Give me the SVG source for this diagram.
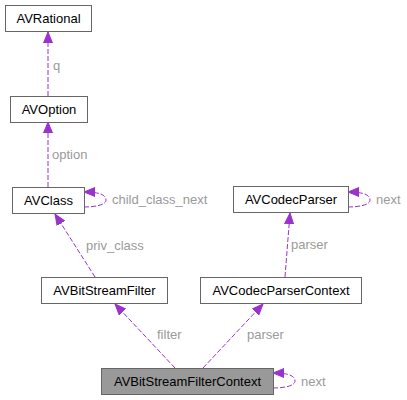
<svg xmlns="http://www.w3.org/2000/svg" width="407" height="400" viewBox="0 0 407 400">
<style>
.node rect{fill:#ffffff;stroke:#666666;stroke-width:1}
.node.focus rect{fill:#999999}
.node text{font-family:"Liberation Sans",Arial,sans-serif;font-size:13px;fill:#000000;text-anchor:middle}
.edge path{fill:none;stroke:#9a32cd;stroke-width:1;stroke-dasharray:5,2}
.lbl{font-family:"Liberation Sans",Arial,sans-serif;font-size:13px;fill:#9a9a9a}
</style>
<defs>
<marker id="ah" markerUnits="userSpaceOnUse" markerWidth="12" markerHeight="10" refX="11" refY="5" orient="auto">
<polygon points="0,0.5 11,5 0,9.5" fill="#9a32cd" stroke="#9a32cd"/>
</marker>
</defs>
<rect width="407" height="400" fill="#ffffff"/>
<g id="connectors" class="edge">
<path d="M48,96 L48,32" marker-end="url(#ah)"/>
<path d="M48,187 L48,122" marker-end="url(#ah)"/>
<path d="M84,207 C95,207 106,205 106,200 C106,195 100,192 84,192" marker-end="url(#ah)"/>
<path d="M95,277 L55,214" marker-end="url(#ah)"/>
<path d="M348,207 C359,207 370,205 370,200 C370,195 364,192 348,192" marker-end="url(#ah)"/>
<path d="M285,277 L290,213" marker-end="url(#ah)"/>
<path d="M175,368 L115,304" marker-end="url(#ah)"/>
<path d="M203,368 L263,304" marker-end="url(#ah)"/>
<path d="M273,388 C284,388 295,386 295,381 C295,376 289,373 273,373" marker-end="url(#ah)"/>
</g>
<g id="edge-labels">
<text class="lbl" x="53" y="70">q</text>
<text class="lbl" x="52" y="159">option</text>
<text class="lbl" x="112" y="204">child_class_next</text>
<text class="lbl" x="86" y="250">priv_class</text>
<text class="lbl" x="376" y="204">next</text>
<text class="lbl" x="291" y="249">parser</text>
<text class="lbl" x="157" y="339">filter</text>
<text class="lbl" x="247" y="339">parser</text>
<text class="lbl" x="301" y="386">next</text>
</g>
<g id="AVRational" class="node"><rect x="5.5" y="5.5" width="86" height="26"/><text x="48.5" y="23">AVRational</text></g>
<g id="AVOption" class="node"><rect x="10.5" y="96.5" width="77" height="26"/><text x="49" y="114">AVOption</text></g>
<g id="AVClass" class="node"><rect x="12.5" y="187.5" width="72" height="26"/><text x="48.5" y="205">AVClass</text></g>
<g id="AVCodecParser" class="node"><rect x="233.5" y="186.5" width="115" height="26"/><text x="291" y="204">AVCodecParser</text></g>
<g id="AVBitStreamFilter" class="node"><rect x="41.5" y="277.5" width="126" height="26"/><text x="104.5" y="295">AVBitStreamFilter</text></g>
<g id="AVCodecParserContext" class="node"><rect x="200.5" y="277.5" width="161" height="26"/><text x="281" y="295">AVCodecParserContext</text></g>
<g id="AVBitStreamFilterContext" class="node focus"><rect x="101.5" y="368.5" width="172" height="26"/><text x="187.5" y="386">AVBitStreamFilterContext</text></g>
</svg>
